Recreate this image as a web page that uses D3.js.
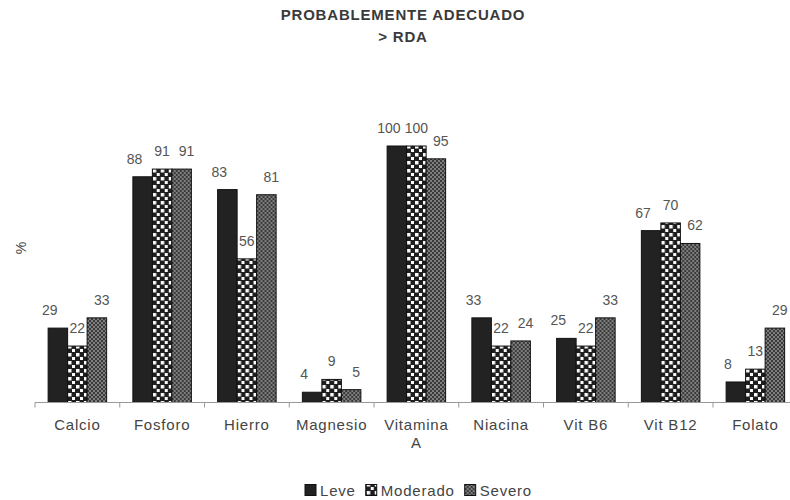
<!DOCTYPE html>
<html>
<head>
<meta charset="utf-8">
<script src="https://cdn.jsdelivr.net/npm/d3@7"></script>
<style>
  html, body { margin: 0; padding: 0; background: #fff; }
  text { font-family: "Liberation Sans", Arial, sans-serif; }
</style>
</head>
<body>
<svg id="chart" width="790" height="500"></svg>
<script>
const categories = ["Calcio", "Fosforo", "Hierro", "Magnesio", "Vitamina A", "Niacina", "Vit B6", "Vit B12", "Folato"];
const seriesNames = ["Leve", "Moderado", "Severo"];
const leve     = [29, 88, 83, 4, 100, 33, 25, 67, 8];
const moderado = [22, 91, 56, 9, 100, 22, 22, 70, 13];
const severo   = [33, 91, 81, 5, 95, 24, 33, 62, 29];
const titleLines = ["PROBABLEMENTE ADECUADO", "> RDA"];
const yLabel = "%";

const series = [leve, moderado, severo];
const svg = d3.select("#chart");

// patterns
const defs = svg.append("defs");
const pMod = defs.append("pattern").attr("id", "pMod").attr("patternUnits", "userSpaceOnUse")
  .attr("width", 8).attr("height", 8);
pMod.append("rect").attr("width", 8).attr("height", 8).attr("fill", "#1e1e1e");
pMod.append("rect").attr("x", 1).attr("y", 1).attr("width", 3.5).attr("height", 3.5).attr("fill", "#fafafa");
pMod.append("rect").attr("x", 5).attr("y", 5).attr("width", 3).attr("height", 3).attr("fill", "#fafafa");
const pSev = defs.append("pattern").attr("id", "pSev").attr("patternUnits", "userSpaceOnUse")
  .attr("width", 4).attr("height", 4);
pSev.append("rect").attr("width", 4).attr("height", 4).attr("fill", "#3a3a3a");
pSev.append("rect").attr("x", 0).attr("y", 0).attr("width", 2).attr("height", 2).attr("fill", "#7e7e7e");
pSev.append("rect").attr("x", 2).attr("y", 2).attr("width", 2).attr("height", 2).attr("fill", "#7e7e7e");
const fills = ["#222222", "url(#pMod)", "url(#pSev)"];

const x0 = d3.scaleBand().domain(categories).range([35, 797.75]).paddingInner(0).paddingOuter(0);
const x1 = d3.scaleBand().domain(seriesNames).range([0, x0.bandwidth()]).paddingInner(0).paddingOuter(0.673);
const y = d3.scaleLinear().domain([0, 100]).range([402.5, 146]);

// title
svg.append("g").selectAll("text").data(titleLines).join("text")
  .attr("x", 403).attr("y", (d, i) => 20 + i * 22)
  .attr("text-anchor", "middle").attr("font-size", 15).attr("font-weight", "bold")
  .attr("letter-spacing", 0.8).attr("fill", "#3a3a3a").text(d => d);

// y label
svg.append("text").attr("transform", "translate(26,248) rotate(-90)")
  .attr("text-anchor", "middle").attr("font-size", 14).attr("fill", "#444").text(yLabel);

// bars
const groups = svg.append("g").selectAll("g").data(categories).join("g")
  .attr("transform", d => `translate(${x0(d)},0)`);
groups.selectAll("rect").data((c, ci) => seriesNames.map((s, si) => ({ s, si, v: series[si][ci] })))
  .join("rect")
  .attr("x", d => x1(d.s)).attr("width", x1.bandwidth())
  .attr("y", d => y(d.v)).attr("height", d => y(0) - y(d.v))
  .attr("fill", d => fills[d.si]).attr("stroke", "#111").attr("stroke-width", 1);

// value labels
const dxs = [-8, 0, 5];
groups.selectAll("text.val").data((c, ci) => seriesNames.map((s, si) => ({ s, si, v: series[si][ci] })))
  .join("text").attr("class", "val")
  .attr("x", d => x1(d.s) + x1.bandwidth() / 2 + dxs[d.si])
  .attr("y", d => y(d.v) - 13)
  .attr("text-anchor", "middle").attr("font-size", 14).attr("fill", "#555")
  .text(d => d.v);

// x axis
const axisG = svg.append("g").attr("transform", `translate(0,${y(0)})`);
axisG.append("line").attr("x1", 35).attr("x2", 790).attr("stroke", "#999").attr("stroke-width", 1);
axisG.selectAll("line.tick").data(categories.map((c) => x0(c)))
  .join("line").attr("class", "tick")
  .attr("x1", d => d).attr("x2", d => d).attr("y1", 0).attr("y2", 5)
  .attr("stroke", "#999");
const catText = axisG.selectAll("text.cat").data(categories).join("text").attr("class", "cat")
  .attr("x", d => x0(d) + x0.bandwidth() / 2).attr("y", 27)
  .attr("text-anchor", "middle").attr("font-size", 15).attr("letter-spacing", 0.8).attr("fill", "#444");
catText.each(function(d) {
  const words = d === "Vitamina A" ? ["Vitamina", "A"] : [d];
  const t = d3.select(this);
  words.forEach((w, i) => {
    t.append("tspan").attr("x", x0(d) + x0.bandwidth() / 2).attr("dy", i === 0 ? 0 : 18).text(w);
  });
});

// legend
const leg = svg.append("g").attr("transform", "translate(305,490)");
let lx = 0;
seriesNames.forEach((s, i) => {
  const g = leg.append("g").attr("transform", `translate(${lx},0)`);
  g.append("rect").attr("x", 0).attr("y", -5.5).attr("width", 11).attr("height", 11)
    .attr("fill", fills[i]).attr("stroke", "#111");
  const t = g.append("text").attr("x", 15).attr("y", 5.5).attr("font-size", 15)
    .attr("letter-spacing", 0.8).attr("fill", "#444").text(s);
  lx += 15 + t.node().getComputedTextLength() + 10;
});
</script>
</body>
</html>
